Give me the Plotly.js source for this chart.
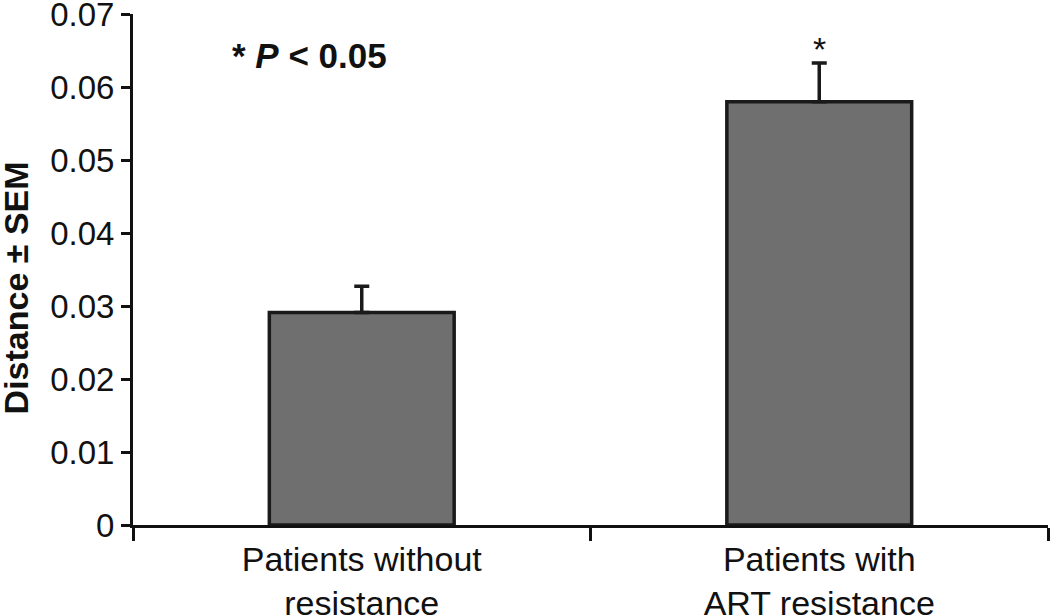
<!DOCTYPE html>
<html>
<head>
<meta charset="utf-8">
<script src="https://cdn.plot.ly/plotly-3.0.1.min.js"></script>
<style>html,body{margin:0;padding:0;background:#fff;}#chart{width:1050px;height:616px;}</style>
</head>
<body>
<div id="chart"></div>
<script>
const categories = ["Patients without<br>resistance", "Patients with<br>ART resistance"];
const means = [0.0291, 0.0580];
const sems = [0.0036, 0.0053];
const sigMarks = ["", "*"];
const yTicks = [0, 0.01, 0.02, 0.03, 0.04, 0.05, 0.06, 0.07];

const F = "Liberation Sans, Arial, Helvetica, sans-serif";

const trace = {
  type: "bar",
  x: categories,
  y: means,
  width: 0.404,
  marker: {color: "#6f6f6f", line: {color: "#1a1a1a", width: 3.5}},
  error_y: {type: "data", symmetric: false, array: sems, arrayminus: [0, 0], color: "#1a1a1a", thickness: 3.5, width: 7.5},
  hoverinfo: "skip"
};

const annotations = [
  {xref: "paper", yref: "paper", x: 0.106, y: 0.918, xanchor: "left", yanchor: "middle",
   text: "<b>* <i>P</i> &lt; 0.05</b>", showarrow: false, font: {family: F, size: 35, color: "#111"}},
  {xref: "paper", yref: "paper", x: -0.1275, y: 0.4637, xanchor: "center", yanchor: "middle", textangle: -90,
   text: "<b>Distance ± SEM</b>", showarrow: false, font: {family: F, size: 34, color: "#111"}}
];
categories.forEach((c, i) => {
  if (sigMarks[i]) annotations.push({x: c, y: means[i] + sems[i], xref: "x", yref: "y", yanchor: "bottom",
    yshift: -7, text: sigMarks[i], showarrow: false, font: {family: F, size: 34, color: "#111"}});
});

const layout = {
  width: 1050, height: 616,
  margin: {l: 133, r: 2, t: 13.6, b: 90.7},
  paper_bgcolor: "#fff", plot_bgcolor: "#fff",
  showlegend: false,
  font: {family: F, size: 33, color: "#111"},
  xaxis: {
    type: "category", range: [-0.5, 1.5], showline: true, linecolor: "#111", linewidth: 3,
    ticks: "outside", tickson: "boundaries", ticklen: 13, tickwidth: 3, tickcolor: "#111",
    showgrid: false, zeroline: false, tickfont: {family: F, size: 34, color: "#111"}, automargin: false,
    ticklabelstandoff: 2
  },
  yaxis: {
    range: [0, 0.07001], tickvals: yTicks, ticktext: yTicks.map(String), showline: true, linecolor: "#111", linewidth: 3,
    ticks: "outside", ticklen: 9, tickwidth: 3, tickcolor: "#111", showgrid: false, zeroline: false,
    tickfont: {family: F, size: 33, color: "#111"}, ticklabelstandoff: 0, ticklabeloverflow: "allow", automargin: false
  },
  annotations: annotations
};

Plotly.newPlot("chart", [trace], layout, {displayModeBar: false, staticPlot: true});
</script>
</body>
</html>
